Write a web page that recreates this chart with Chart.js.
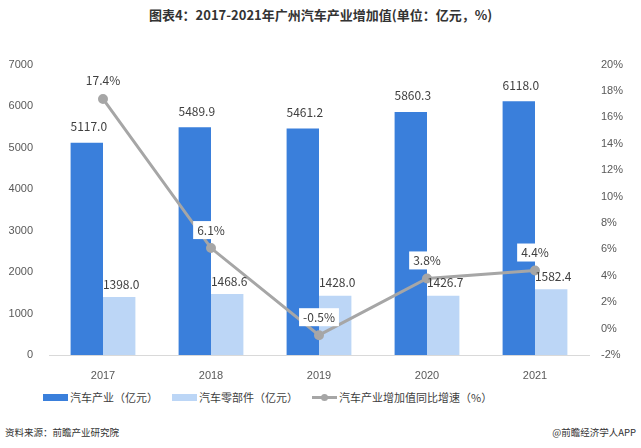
<!DOCTYPE html>
<html>
<head>
<meta charset="utf-8">
<script src="https://cdn.jsdelivr.net/npm/chart.js@4"></script>
<style>
  body { margin: 0; width: 641px; height: 448px; background: #fff; position: relative; overflow: hidden;
         font-family: "Noto Sans CJK SC", "Noto Sans", sans-serif; }
  #title { position: absolute; top: 5px; left: 0; width: 641px; text-align: center;
           font-size: 13px; font-weight: bold; color: #333; }
  #wrap { position: absolute; top: 50px; left: 0; width: 641px; height: 335px; }
  #legend { position: absolute; top: 389px; left: 43px; display: flex;
            font-size: 11px; color: #404040; }
  #legend .item { display: flex; align-items: center; margin-right: 14px; }
  #legend .box { width: 25px; height: 7px; margin-right: 2px; }
  #legend .ln { width: 25px; height: 3px; background: #a6a6a6; margin-right: 2px; position: relative; }
  #legend .ln::after { content: ""; position: absolute; left: 9px; top: -2px; width: 7px; height: 7px;
                       border-radius: 50%; background: #a6a6a6; }
  #src { position: absolute; top: 425px; left: 5px; font-size: 9.5px; color: #333; }
  #brand { position: absolute; top: 425px; right: 5px; font-size: 9.5px; color: #333; }
</style>
</head>
<body>
<div id="title">图表4：2017-2021年广州汽车产业增加值(单位：亿元，%)</div>
<div id="wrap"><canvas id="c"></canvas></div>
<div id="legend">
  <div class="item"><span class="box" style="background:#3a7fdb"></span>汽车产业（亿元）</div>
  <div class="item"><span class="box" style="background:#bcd6f6"></span>汽车零部件（亿元）</div>
  <div class="item"><span class="ln"></span>汽车产业增加值同比增速（%）</div>
</div>
<div id="src">资料来源：前瞻产业研究院</div>
<div id="brand">@前瞻经济学人APP</div>
<script>
const years = ['2017', '2018', '2019', '2020', '2021'];
const autoIndustry = [5117.0, 5489.9, 5461.2, 5860.3, 6118.0];
const autoParts = [1398.0, 1468.6, 1428.0, 1426.7, 1582.4];
const growthRate = [17.4, 6.1, -0.5, 3.8, 4.4];

const labelPlugin = {
    id: 'labels',
    afterDatasetsDraw(chart) {
        const ctx = chart.ctx;
        ctx.save();
        ctx.font = '12px "Noto Sans CJK SC", sans-serif';
        ctx.textAlign = 'center';
        ctx.textBaseline = 'middle';
        chart.data.datasets.forEach((ds, i) => {
            const meta = chart.getDatasetMeta(i);
            meta.data.forEach((el, j) => {
                const v = ds.data[j];
                if (ds.type === 'line') {
                    const txt = v.toFixed(1) + '%';
                    const w = ctx.measureText(txt).width + 8;
                    const y = el.y - 18;
                    ctx.fillStyle = '#fff';
                    ctx.fillRect(el.x - w / 2, y - 9, w, 18);
                    ctx.fillStyle = '#404040';
                    ctx.fillText(txt, el.x, y);
                } else {
                    ctx.fillStyle = '#404040';
                    ctx.fillText(v.toFixed(1), el.x + 2, el.y - (i === 1 ? 16 : 13));
                }
            });
        });
        ctx.restore();
    }
};

new Chart(document.getElementById('c'), {
    data: {
        labels: years,
        datasets: [
            {
                type: 'line',
                label: '汽车产业增加值同比增速（%）',
                data: growthRate,
                yAxisID: 'y1',
                borderColor: '#a6a6a6',
                backgroundColor: '#a6a6a6',
                borderWidth: 3,
                pointRadius: 3.5,
                tension: 0,
                order: 0
            },
            {
                type: 'bar',
                label: '汽车产业（亿元）',
                data: autoIndustry,
                yAxisID: 'y',
                backgroundColor: '#3a7fdb',
                categoryPercentage: 0.6,
                barPercentage: 1,
                order: 1
            },
            {
                type: 'bar',
                label: '汽车零部件（亿元）',
                data: autoParts,
                yAxisID: 'y',
                backgroundColor: '#bcd6f6',
                categoryPercentage: 0.6,
                barPercentage: 1,
                order: 1
            }
        ]
    },
    options: {
        responsive: true,
        maintainAspectRatio: false,
        animation: false,
        layout: { padding: { top: 12, left: 0, right: 0, bottom: 0 } },
        plugins: {
            legend: { display: false },
            tooltip: { enabled: false }
        },
        scales: {
            x: {
                grid: { display: false },
                border: { color: '#d9d9d9' },
                ticks: { color: '#595959', font: { size: 11 }, padding: 6 },
                afterFit(s) { s.height = 30; }
            },
            y: {
                position: 'left',
                min: 0, max: 7000,
                grid: { display: false },
                border: { display: false },
                ticks: { stepSize: 1000, color: '#595959', font: { size: 11 }, padding: 8,
                         callback: v => String(v) },
                afterFit(s) { s.width = 49; }
            },
            y1: {
                position: 'right',
                min: -2, max: 20,
                grid: { display: false },
                border: { display: false },
                ticks: { stepSize: 2, color: '#595959', font: { size: 11 }, padding: 4,
                         callback: v => v + '%' },
                afterFit(s) { s.width = 52; }
            }
        }
    },
    plugins: [labelPlugin]
});
</script>
</body>
</html>
